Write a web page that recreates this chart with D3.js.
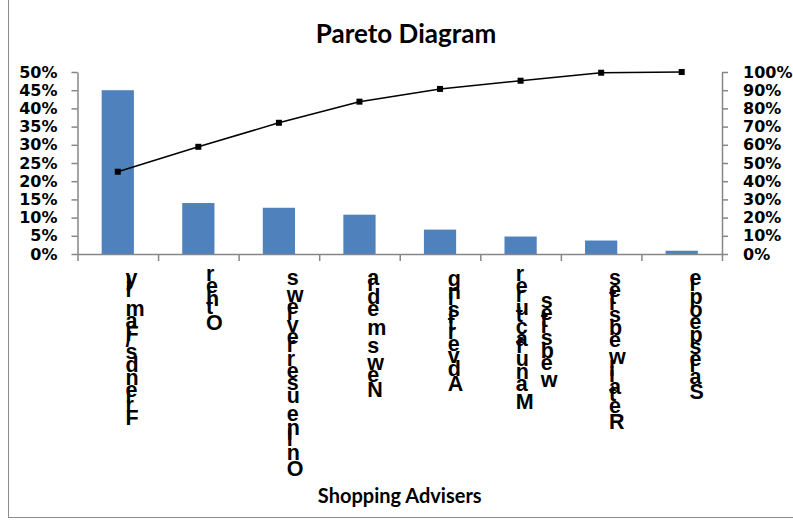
<!DOCTYPE html>
<html>
<head>
<meta charset="utf-8">
<script src="https://cdn.jsdelivr.net/npm/d3@7"></script>
<style>
  body { margin: 0; background: #fff; }
</style>
</head>
<body>
<svg id="chart"></svg>
<script>
const width = 793,
  height = 521;

// data
const categories = [
  "Friends/Family",
  "Other",
  "Online user reviews",
  "News media",
  "Advertising",
  "Manufacturer websites",
  "Retail websites",
  "Salespeople"
];
const share = [45, 14, 12.7, 10.8, 6.7, 4.8, 3.7, 0.9]; // % of respondents
const cumulative = [45.2, 58.9, 72.1, 83.7, 90.7, 95.2, 99.6, 100]; // cumulative %
const leftTicks = [0, 5, 10, 15, 20, 25, 30, 35, 40, 45, 50];
const rightTicks = [0, 10, 20, 30, 40, 50, 60, 70, 80, 90, 100];

const svg = d3.select("#chart").attr("width", width).attr("height", height);

// chart frame
svg.append("rect")
  .attr("x", 8.5).attr("y", -2)
  .attr("width", 800).attr("height", 519.5)
  .attr("fill", "none").attr("stroke", "#8c8c8c");

const x0 = 77.5, x1 = 722, yBase = 254, yTop = 72;

const x = d3.scaleBand().domain(categories).range([x0, x1])
  .paddingInner(0.6).paddingOuter(0.3);
const xEdge = d3.scaleLinear().domain([0, categories.length]).range([x0, x1]);
const yL = d3.scaleLinear().domain([0, 50]).range([yBase, yTop]);
const yR = d3.scaleLinear().domain([0, 100]).range([yBase, yTop]);

const axisColor = "#868686";
const tickFont = "bold 16px 'DejaVu Sans', sans-serif";

function styleAxis(g) {
  g.selectAll("path.domain").attr("stroke", axisColor).attr("stroke-width", 1.5);
  g.selectAll(".tick line").attr("stroke", axisColor).attr("stroke-width", 1.5);
  g.selectAll(".tick text").style("font", tickFont).attr("fill", "#000");
}

// bars
svg.append("g").selectAll("rect")
  .data(categories)
  .join("rect")
  .attr("x", d => x(d))
  .attr("y", (d, i) => yL(share[i]))
  .attr("width", x.bandwidth())
  .attr("height", (d, i) => yBase - yL(share[i]))
  .attr("fill", "#4F81BD");

// axes
svg.append("g")
  .attr("transform", `translate(${x0},0)`)
  .call(d3.axisLeft(yL).tickValues(leftTicks).tickSize(6).tickSizeOuter(0)
    .tickPadding(14).tickFormat(d => d + "%"))
  .call(styleAxis);

svg.append("g")
  .attr("transform", `translate(${x1},0)`)
  .call(d3.axisRight(yR).tickValues(rightTicks).tickSize(6).tickSizeOuter(0)
    .tickPadding(15).tickFormat(d => d + "%"))
  .call(styleAxis);

svg.append("g")
  .attr("transform", `translate(0,${yBase})`)
  .call(d3.axisBottom(xEdge).tickValues(d3.range(categories.length + 1))
    .tickSize(7).tickSizeOuter(0).tickFormat(""))
  .call(styleAxis);

// cumulative line
const cx = d => x(d) + x.bandwidth() / 2;
const line = d3.line()
  .x(d => cx(d))
  .y((d, i) => yR(cumulative[i]));

svg.append("path")
  .datum(categories)
  .attr("d", line)
  .attr("fill", "none")
  .attr("stroke", "#000")
  .attr("stroke-width", 1.5);

svg.append("g").selectAll("rect")
  .data(categories)
  .join("rect")
  .attr("x", d => cx(d) - 3)
  .attr("y", (d, i) => yR(cumulative[i]) - 3)
  .attr("width", 6)
  .attr("height", 6)
  .attr("fill", "#000");

// category labels: rotated text with upright glyphs, as in the reference
const labelFont = "bold 21.5px 'Liberation Sans', Arial, sans-serif";
const labelEnd = 273;
const lineGap = 25;

categories.forEach(c => {
  const lines = c.length > 20
    ? [c.slice(0, c.lastIndexOf(" ")), c.slice(c.lastIndexOf(" ") + 1)]
    : [c];
  const g = svg.append("g")
    .attr("transform", `translate(${cx(c)},${labelEnd}) rotate(-90)`);
  const texts = lines.map((t, k) => g.append("text")
    .attr("rotate", 90)
    .attr("dy", "0.36em")
    .attr("y", (k - (lines.length - 1) / 2) * lineGap)
    .style("font", labelFont)
    .attr("fill", "#000")
    .text(t));
  if (lines.length === 1) {
    texts[0].attr("text-anchor", "end");
  } else {
    const maxLen = d3.max(texts, t => t.node().getComputedTextLength());
    texts.forEach(t => t.attr("text-anchor", "middle").attr("x", -maxLen / 2));
  }
});

// titles
svg.append("text")
  .attr("x", 406).attr("y", 43)
  .attr("text-anchor", "middle")
  .style("font", "bold 26px Lato, 'Open Sans', sans-serif")
  .text("Pareto Diagram");

svg.append("text")
  .attr("x", (x0 + x1) / 2).attr("y", 503)
  .attr("text-anchor", "middle")
  .style("font", "bold 20px Lato, 'Open Sans', sans-serif")
  .text("Shopping Advisers");
</script>
</body>
</html>
